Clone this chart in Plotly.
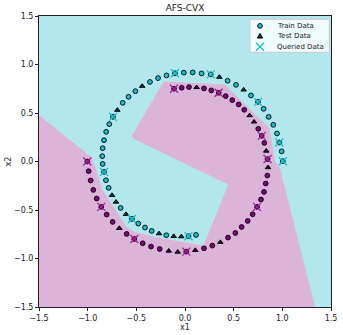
import plotly.graph_objects as go

# ---------------- data ----------------
# decision region (class B / purple) boundary polygon
region_x = [-1.5, -0.96, -0.91, -0.87, -0.856, -0.6, -0.514, -0.3, 0.19, 0.445, -0.51, -0.548,
            -0.22, 0.41, 0.87, 0.89, 0.925, 0.976, 1.336, -1.5]
region_y = [0.478, 0.045, -0.09, -0.22, -0.28, -0.675, -0.726, -0.78, -0.865, -0.237, 0.225, 0.258,
            0.825, 0.795, 0.34, 0.22, 0.0, -0.07, -1.5, -1.5]

# class A (cyan) training points
a_train_x = [-0.846, -0.85, -0.846, -0.832, -0.81, -0.778, -0.74, -0.64, -0.58, -0.51, -0.36, -0.277,
             -0.19, -0.103, -0.012, 0.079, 0.17, 0.264, 0.438, 0.524, 0.678, 0.75, 0.808, 0.86,
             0.907, 0.945, 0.969, 0.993, 1.005,
             -0.832, -0.812, -0.784, -0.661, -0.545, -0.48, -0.411, -0.342, -0.192, 0.036, 0.113]
a_train_y = [-0.025, 0.055, 0.137, 0.22, 0.306, 0.385, 0.46, 0.605, 0.667, 0.725, 0.82, 0.86,
             0.887, 0.91, 0.916, 0.918, 0.908, 0.898, 0.832, 0.79, 0.681, 0.615, 0.543, 0.46,
             0.378, 0.289, 0.196, 0.105, 0.003,
             -0.107, -0.193, -0.272, -0.479, -0.592, -0.64, -0.681, -0.716, -0.76, -0.77, -0.757]
# class A test points
a_test_x = [-0.695, -0.44, 0.353, 0.603, -0.75, -0.709, -0.606, -0.267, -0.116, -0.038]
a_test_y = [0.53, 0.777, 0.87, 0.739, -0.348, -0.417, -0.544, -0.743, -0.771, -0.774]
# class A queried points
a_query_x = [-0.74, -0.103, 0.264, 0.75, 0.969, 1.005, -0.832, -0.545, 0.036]
a_query_y = [0.46, 0.91, 0.898, 0.615, 0.196, 0.003, -0.107, -0.592, -0.77]

# class B (purple) training points
b_train_x = [-0.113, -0.034, 0.041, 0.195, 0.27, 0.346, 0.418, 0.486, 0.551, 0.609, 0.753, 0.788,
             0.815, 0.848, 0.846, 0.829, 0.812, 0.781, 0.74, 0.695, 0.644, 0.582, 0.517, 0.442,
             0.281, 0.195, 0.013,
             -1.004, -0.99, -0.969, -0.942, -0.907, -0.86, -0.805, -0.743, -0.6, -0.521, -0.435,
             -0.349, -0.26]
b_train_y = [0.75, 0.76, 0.767, 0.753, 0.733, 0.708, 0.674, 0.633, 0.588, 0.533, 0.337, 0.264,
             0.192, 0.025, -0.145, -0.227, -0.314, -0.392, -0.468, -0.544, -0.613, -0.675, -0.737,
             -0.784, -0.867, -0.895, -0.929,
             0.0, -0.1, -0.196, -0.293, -0.382, -0.468, -0.547, -0.623, -0.747, -0.799, -0.843,
             -0.877, -0.902]
# class B test points
b_test_x = [0.12, 0.664, 0.709, 0.835, 0.853, 0.363, 0.106, -0.675, -0.167, -0.075]
b_test_y = [0.764, 0.474, 0.409, 0.109, -0.062, -0.833, -0.915, -0.688, -0.922, -0.933]
# class B queried points
b_query_x = [-0.113, 0.346, 0.788, 0.848, 0.74, 0.013, -1.004, -0.86, -0.521]
b_query_y = [0.75, 0.708, 0.264, 0.025, -0.468, -0.929, 0.0, -0.468, -0.799]

tick_vals = [-1.5, -1.0, -0.5, 0.0, 0.5, 1.0, 1.5]
tick_text = ["\u22121.5", "\u22121.0", "\u22120.5", "0.0", "0.5", "1.0", "1.5"]
legend_labels = ["Train Data", "Test Data", "Queried Data"]

# ---------------- style ----------------
CYAN_BG = "#b2e8ed"
PINK_BG = "#dcb4da"
CYAN = "#17becf"
PURPLE = "#800080"
PURPLE_X = "#a0209a"
CYAN_TRI = "#0b3f45"
PURPLE_TRI = "#3a003a"
FONT = "DejaVu Sans"

fig = go.Figure()

fig.add_trace(go.Scatter(x=region_x, y=region_y, mode="lines", fill="toself",
                         fillcolor=PINK_BG, line=dict(width=0, color=PINK_BG),
                         hoverinfo="skip", showlegend=False))

circ = dict(symbol="circle", size=4.8, line=dict(color="black", width=0.9))
tri = dict(symbol="triangle-up", size=4.8, line=dict(color="black", width=1))

fig.add_trace(go.Scatter(x=a_train_x, y=a_train_y, mode="markers", name=legend_labels[0],
                         marker=dict(color=CYAN, **circ), showlegend=False))
fig.add_trace(go.Scatter(x=b_train_x, y=b_train_y, mode="markers", name=legend_labels[0],
                         marker=dict(color=PURPLE, **circ), showlegend=False))
fig.add_trace(go.Scatter(x=a_test_x, y=a_test_y, mode="markers", name=legend_labels[1],
                         marker=dict(color=CYAN_TRI, **tri), showlegend=False))
fig.add_trace(go.Scatter(x=b_test_x, y=b_test_y, mode="markers", name=legend_labels[1],
                         marker=dict(color=PURPLE_TRI, **tri), showlegend=False))
fig.add_trace(go.Scatter(x=a_query_x, y=a_query_y, mode="markers", name=legend_labels[2],
                         marker=dict(symbol="x-thin", size=8, line=dict(color=CYAN, width=1.3)),
                         showlegend=False))
fig.add_trace(go.Scatter(x=b_query_x, y=b_query_y, mode="markers", name=legend_labels[2],
                         marker=dict(symbol="x-thin", size=8, line=dict(color=PURPLE_X, width=1.3)),
                         showlegend=False))

# ---------------- compact legend (matplotlib-like) ----------------
LEG_X0, LEG_X1, LEG_Y0, LEG_Y1 = 0.7226, 0.9942, 0.8751, 0.9886
KEY_X, TEXT_X = 0.7568, 0.8082
ROW_Y = [0.9659, 0.9312, 0.8944]

shapes = [dict(type="rect", xref="paper", yref="paper", x0=LEG_X0, x1=LEG_X1, y0=LEG_Y0, y1=LEG_Y1,
               fillcolor="rgba(255,255,255,0.8)", line=dict(color="#cccccc", width=1), layer="above")]
key_common = dict(xref="paper", yref="paper", xsizemode="pixel", ysizemode="pixel",
                  xanchor=KEY_X, layer="above")
shapes.append(dict(type="circle", yanchor=ROW_Y[0], x0=-2.4, x1=2.4, y0=-2.4, y1=2.4,
                   fillcolor=CYAN, line=dict(color="black", width=0.9), **key_common))
shapes.append(dict(type="path", yanchor=ROW_Y[1], path="M -2.6,-2 L 2.6,-2 L 0,2.6 Z",
                   fillcolor=CYAN_TRI, line=dict(color="black", width=1), **key_common))
shapes.append(dict(type="path", yanchor=ROW_Y[2], path="M -4,-4 L 4,4 M -4,4 L 4,-4",
                   line=dict(color=CYAN, width=1.3), **key_common))
annotations = [dict(text=lab, xref="paper", yref="paper", x=TEXT_X, y=yy, xanchor="left",
                    yanchor="middle", showarrow=False,
                    font=dict(family=FONT, size=7, color="#222"))
               for lab, yy in zip(legend_labels, ROW_Y)]

axis_common = dict(range=[-1.5, 1.5], tickvals=tick_vals, ticktext=tick_text,
                   showgrid=False, zeroline=False, showline=True, mirror=True,
                   linecolor="#222", linewidth=1, ticks="outside", ticklen=3,
                   tickcolor="#222", tickfont=dict(family=FONT, size=8, color="#222"),
                   automargin=False)

fig.update_layout(
    width=343, height=335,
    margin=dict(l=39, r=12, t=16, b=28),
    paper_bgcolor="white", plot_bgcolor=CYAN_BG,
    title=dict(text="AFS-CVX", xref="paper", x=0.5, xanchor="center",
               yref="container", y=0.985, yanchor="top",
               font=dict(family=FONT, size=9, color="#222")),
    xaxis=dict(title=dict(text="x1", font=dict(family=FONT, size=8, color="#222"), standoff=1),
               **axis_common),
    yaxis=dict(title=dict(text="x2", font=dict(family=FONT, size=8, color="#222"), standoff=1),
               **axis_common),
    shapes=shapes,
    annotations=annotations,
    showlegend=False,
)

fig.write_html("out.html", config={"displayModeBar": False},
               post_script="document.body.style.margin='0';")
